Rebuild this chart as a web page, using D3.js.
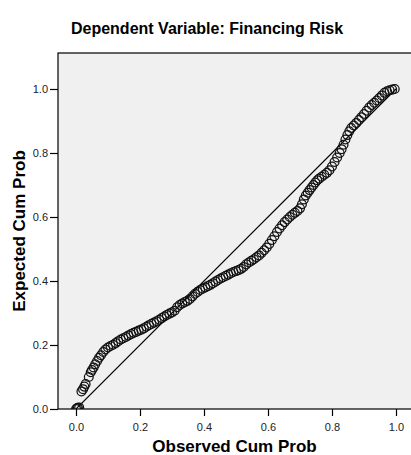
<!DOCTYPE html>
<html>
<head>
<meta charset="utf-8">
<script src="https://cdn.jsdelivr.net/npm/d3@7"></script>
<style>
  body { margin: 0; background: #fff; }
  svg { display: block; font-family: "Liberation Sans", Arial, sans-serif; }
</style>
</head>
<body>
<svg id="chart" width="411" height="455"></svg>
<script>
var chartTitle = "Dependent Variable: Financing Risk";
var xTitle = "Observed Cum Prob";
var yTitle = "Expected Cum Prob";
var tickValues = [0.0, 0.2, 0.4, 0.6, 0.8, 1.0];

// observed cumulative probability (x)
var observed = [
    0.000, 0.003, 0.006, 0.010,
    0.017, 0.022, 0.026, 0.030,
    0.040, 0.046, 0.050, 0.055, 0.060, 0.066, 0.072, 0.078, 0.085, 0.092,
    0.100, 0.108, 0.116, 0.124, 0.132, 0.140, 0.148, 0.156, 0.164, 0.172,
    0.180, 0.188, 0.196, 0.204, 0.212, 0.220, 0.228, 0.236, 0.244, 0.252,
    0.260, 0.268, 0.276, 0.284, 0.292, 0.300, 0.308, 0.316, 0.324, 0.332,
    0.340, 0.348, 0.356, 0.364, 0.372, 0.380, 0.388, 0.396, 0.404, 0.412,
    0.420, 0.428, 0.436, 0.444, 0.452, 0.460, 0.468, 0.476, 0.484, 0.492,
    0.500, 0.508, 0.516, 0.524, 0.532, 0.540, 0.548, 0.556, 0.564, 0.572,
    0.580, 0.588, 0.596, 0.604, 0.612, 0.620, 0.628, 0.636, 0.644, 0.652,
    0.660, 0.668, 0.676, 0.684, 0.692, 0.700, 0.706, 0.712, 0.718, 0.724,
    0.730, 0.736, 0.742, 0.748, 0.754, 0.760, 0.768, 0.776, 0.784, 0.792,
    0.800, 0.808, 0.816, 0.824, 0.830, 0.836, 0.842, 0.848, 0.854, 0.860,
    0.868, 0.876, 0.884, 0.892, 0.900, 0.908, 0.916, 0.924, 0.932, 0.940,
    0.948, 0.956, 0.964, 0.972, 0.980, 0.988, 0.996
];

// expected cumulative probability (y)
var expected = [
    0.000, 0.002, 0.004, 0.005,
    0.055, 0.062, 0.070, 0.078,
    0.100, 0.115, 0.122, 0.130, 0.140, 0.150, 0.160, 0.168, 0.178, 0.186,
    0.192, 0.197, 0.201, 0.206, 0.212, 0.217, 0.221, 0.225, 0.230, 0.234,
    0.238, 0.241, 0.245, 0.248, 0.252, 0.257, 0.262, 0.266, 0.270, 0.274,
    0.279, 0.284, 0.289, 0.294, 0.298, 0.302, 0.307, 0.318, 0.325, 0.330,
    0.334, 0.338, 0.344, 0.352, 0.360, 0.366, 0.372, 0.376, 0.380, 0.384,
    0.388, 0.393, 0.398, 0.403, 0.408, 0.412, 0.416, 0.420, 0.424, 0.428,
    0.431, 0.434, 0.438, 0.444, 0.452, 0.458, 0.463, 0.468, 0.474, 0.480,
    0.488, 0.496, 0.505, 0.516, 0.528, 0.540, 0.553, 0.564, 0.574, 0.584,
    0.592, 0.600, 0.607, 0.613, 0.619, 0.627, 0.640, 0.655, 0.667, 0.676,
    0.684, 0.692, 0.700, 0.708, 0.715, 0.720, 0.726, 0.732, 0.738, 0.746,
    0.758, 0.772, 0.786, 0.800, 0.812, 0.826, 0.842, 0.856, 0.868, 0.878,
    0.886, 0.894, 0.903, 0.912, 0.922, 0.932, 0.942, 0.950, 0.957, 0.964,
    0.972, 0.980, 0.988, 0.993, 0.996, 0.998, 1.000
];

var points = observed.map(function (d, i) { return { x: d, y: expected[i] }; });

var svg = d3.select("#chart");

var frame = { left: 58, top: 53, right: 412, bottom: 409 };

var xScale = d3.scaleLinear()
    .domain([-0.05625, 1.05])
    .range([frame.left, frame.right]);

var yScale = d3.scaleLinear()
    .domain([0, 1.1125])
    .range([frame.bottom, frame.top]);

// plot background
svg.append("rect")
    .attr("x", frame.left)
    .attr("y", frame.top)
    .attr("width", frame.right - frame.left)
    .attr("height", frame.bottom - frame.top)
    .attr("fill", "#f0f0f0")
    .attr("stroke", "#000")
    .attr("stroke-width", 1.2);

svg.append("clipPath")
    .attr("id", "plotClip")
    .append("rect")
    .attr("x", frame.left)
    .attr("y", frame.top)
    .attr("width", frame.right - frame.left)
    .attr("height", frame.bottom - frame.top);

var plot = svg.append("g").attr("clip-path", "url(#plotClip)");

// reference diagonal
plot.append("line")
    .attr("x1", xScale(0))
    .attr("y1", yScale(0))
    .attr("x2", xScale(1))
    .attr("y2", yScale(1))
    .attr("stroke", "#000")
    .attr("stroke-width", 1.1);

plot.selectAll("circle")
    .data(points)
    .enter()
    .append("circle")
    .attr("cx", function (d) { return xScale(d.x); })
    .attr("cy", function (d) { return yScale(d.y); })
    .attr("r", 4.4)
    .attr("fill", "none")
    .attr("stroke", "#111")
    .attr("stroke-width", 1.25);

var xAxis = d3.axisBottom(xScale)
    .tickValues(tickValues)
    .tickSize(7)
    .tickPadding(7)
    .tickSizeOuter(0)
    .tickFormat(d3.format(".1f"));

var yAxis = d3.axisLeft(yScale)
    .tickValues(tickValues)
    .tickSize(8)
    .tickPadding(2)
    .tickSizeOuter(0)
    .tickFormat(d3.format(".1f"));

var gx = svg.append("g")
    .attr("transform", "translate(0," + frame.bottom + ")")
    .call(xAxis);

var gy = svg.append("g")
    .attr("transform", "translate(" + frame.left + ",0)")
    .call(yAxis);

[gx, gy].forEach(function (g) {
    g.select(".domain").remove();
    g.selectAll("line").attr("stroke", "#000").attr("stroke-width", 1.2);
    g.selectAll("text")
        .attr("fill", "#222")
        .style("font-family", "'Liberation Sans', Arial, sans-serif")
        .style("font-size", "11px");
});

svg.append("text")
    .attr("x", 207)
    .attr("y", 34)
    .attr("text-anchor", "middle")
    .style("font-size", "16px")
    .style("font-weight", "bold")
    .attr("fill", "#000")
    .text(chartTitle);

svg.append("text")
    .attr("x", (frame.left + 411) / 2)
    .attr("y", 452)
    .attr("text-anchor", "middle")
    .style("font-size", "17px")
    .style("font-weight", "bold")
    .attr("fill", "#000")
    .text(xTitle);

svg.append("text")
    .attr("transform", "translate(25," + ((frame.top + frame.bottom) / 2) + ") rotate(-90)")
    .attr("text-anchor", "middle")
    .style("font-size", "17px")
    .style("font-weight", "bold")
    .attr("fill", "#000")
    .text(yTitle);
</script>
</body>
</html>
